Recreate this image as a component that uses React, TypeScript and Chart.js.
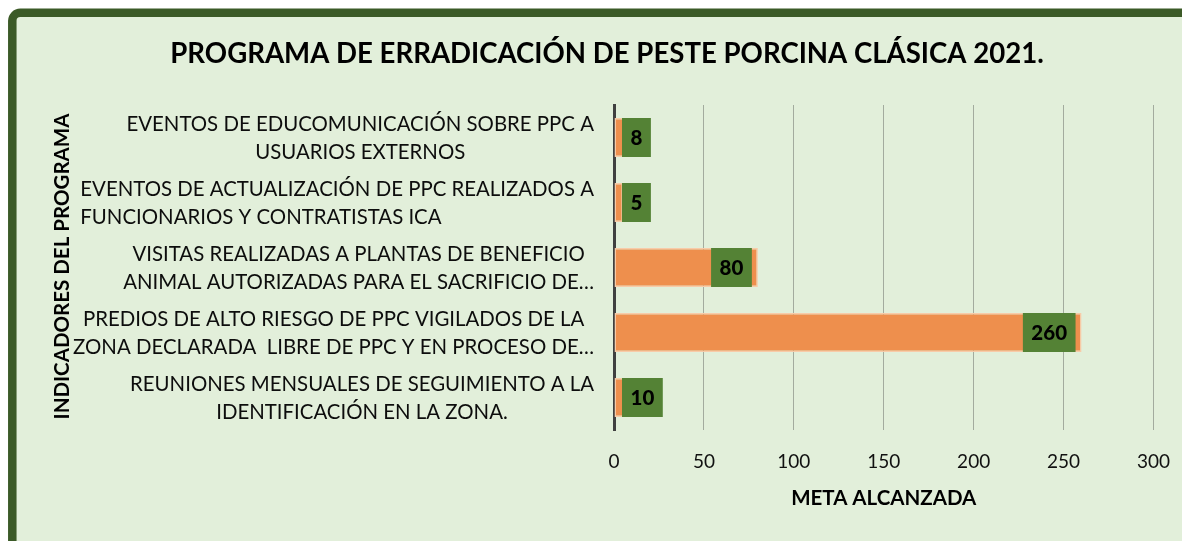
import React, { useEffect, useRef } from "react";
import { Chart, registerables } from "chart.js";

Chart.register(...registerables);

const titleText = "PROGRAMA DE ERRADICACIÓN DE PESTE PORCINA CLÁSICA 2021.";
const yAxisTitle = "INDICADORES DEL PROGRAMA";
const xAxisTitle = "META ALCANZADA";

const categories: string[][] = [
  ["EVENTOS DE EDUCOMUNICACIÓN SOBRE PPC A", "USUARIOS EXTERNOS"],
  ["EVENTOS DE ACTUALIZACIÓN DE PPC REALIZADOS A", "FUNCIONARIOS Y CONTRATISTAS ICA"],
  ["VISITAS REALIZADAS A PLANTAS DE BENEFICIO", "ANIMAL AUTORIZADAS PARA EL SACRIFICIO DE…"],
  ["PREDIOS DE ALTO RIESGO DE PPC VIGILADOS DE LA", "ZONA DECLARADA  LIBRE DE PPC Y EN PROCESO DE…"],
  ["REUNIONES MENSUALES DE SEGUIMIENTO A LA", "IDENTIFICACIÓN EN LA ZONA."],
];

// per-label alignment of the lines within their block
const categoryAlign = ["center", "left", "center", "center", "center"];

const metaValues = [8, 5, 80, 260, 10];

const xTicks = [0, 50, 100, 150, 200, 250, 300];

const FONT = "Lato, 'Open Sans', sans-serif";

const framePlugin = {
  id: "frame",
  beforeDraw(chart: any) {
    const { ctx, width, height } = chart;
    ctx.save();
    ctx.beginPath();
    const x = 4.3, y = 4.8, w = width + 60, h = height + 60, r = 8;
    ctx.moveTo(x + r, y);
    ctx.lineTo(x + w, y);
    ctx.lineTo(x + w, y + h);
    ctx.lineTo(x, y + h);
    ctx.lineTo(x, y + r);
    ctx.arcTo(x, y, x + r, y, r);
    ctx.closePath();
    ctx.fillStyle = "#E2EFDA";
    ctx.fill();
    ctx.lineWidth = 8.5;
    ctx.strokeStyle = "#3B5A27";
    ctx.stroke();
    ctx.restore();
  },
};

const textPlugin = {
  id: "texts",
  afterDraw(chart: any) {
    const { ctx, chartArea } = chart;
    const yScale = chart.scales.y;
    ctx.save();
    // Title
    ctx.fillStyle = "#000";
    ctx.font = `bold 27.6px ${FONT}`;
    ctx.textAlign = "center";
    ctx.textBaseline = "alphabetic";
    ctx.fillText(titleText, 599, 55);

    // Category labels
    ctx.font = `20.4px ${FONT}`;
    const blockRight = chartArea.left - 20;
    categories.forEach((lines, i) => {
      const cy = yScale.getPixelForValue(i);
      const widths = lines.map((l) => ctx.measureText(l).width);
      const bw = Math.max(...widths);
      ctx.fillStyle = "#0d0d0d";
      if (categoryAlign[i] === "left") {
        ctx.textAlign = "left";
        const lx = blockRight - bw;
        ctx.fillText(lines[0], lx, cy - 7);
        ctx.fillText(lines[1], lx, cy + 21);
      } else {
        const cx = blockRight - bw / 2;
        ctx.textAlign = "center";
        ctx.fillText(lines[0], cx, cy - 7);
        ctx.fillText(lines[1], cx, cy + 21);
      }
    });

    // Y axis title
    ctx.save();
    ctx.translate(54, (chartArea.top + chartArea.bottom) / 2 - 1);
    ctx.rotate(-Math.PI / 2);
    ctx.font = `bold 20.5px ${FONT}`;
    ctx.textAlign = "center";
    ctx.textBaseline = "middle";
    ctx.fillStyle = "#000";
    ctx.fillText(yAxisTitle, 0, 0);
    ctx.restore();

    // X axis title
    ctx.font = `bold 20.5px ${FONT}`;
    ctx.textAlign = "center";
    ctx.textBaseline = "alphabetic";
    ctx.fillStyle = "#000";
    ctx.fillText(xAxisTitle, (chartArea.left + chartArea.right) / 2, 497);
    ctx.restore();
  },
};

const labelPlugin = {
  id: "valueBoxes",
  afterDatasetsDraw(chart: any) {
    const { ctx, chartArea } = chart;
    const meta = chart.getDatasetMeta(0);
    ctx.save();
    ctx.font = `900 20.5px ${FONT}`;
    meta.data.forEach((bar: any, i: number) => {
      const v = metaValues[i];
      const txt = String(v);
      const tw = ctx.measureText(txt).width;
      const bw = tw + 17;
      const h = bar.height;
      const left = Math.max(bar.x - 6 - bw, chartArea.left + 8);
      ctx.fillStyle = "#548235";
      ctx.fillRect(left, bar.y - h / 2, bw, h);
      ctx.fillStyle = "#000";
      ctx.textAlign = "center";
      ctx.textBaseline = "middle";
      ctx.fillText(txt, left + bw / 2, bar.y + 1);
    });
    ctx.restore();
  },
};

export default function App() {
  const ref = useRef<HTMLCanvasElement | null>(null);
  useEffect(() => {
    if (!ref.current) return;
    const chart = new Chart(ref.current, {
      type: "bar",
      data: {
        labels: categories.map((c) => c.join(" ")),
        datasets: [
          {
            data: metaValues,
            backgroundColor: "#EE8F4D",
            borderColor: "#F8CBA8",
            borderWidth: 1.5,
            borderSkipped: false,
            barPercentage: 0.6,
            categoryPercentage: 1,
          },
        ],
      },
      options: {
        indexAxis: "y",
        responsive: false,
        animation: false,
        layout: { padding: { left: 606, right: 36, top: 97, bottom: 0 } },
        plugins: {
          legend: { display: false },
          tooltip: { enabled: false },
          title: { display: false },
        },
        scales: {
          x: {
            min: 0,
            max: 300,
            afterBuildTicks(scale: any) {
              scale.ticks = xTicks.map((v) => ({ value: v }));
            },
            afterFit(scale: any) {
              scale.height = 111;
            },
            grid: { color: "#A3AB9E", lineWidth: 1, drawTicks: false },
            border: { display: false },
            ticks: {
              font: { family: FONT, size: 19 },
              color: "#111",
              padding: 20,
            },
          },
          y: {
            afterFit(scale: any) {
              scale.width = 0;
            },
            grid: { display: false },
            border: { display: true, color: "#404040", width: 3 },
            ticks: { display: false },
          },
        },
      },
      plugins: [framePlugin, textPlugin, labelPlugin],
    });
    return () => chart.destroy();
  }, []);
  return <canvas ref={ref} width={1182} height={533} style={{ display: "block" }} />;
}
